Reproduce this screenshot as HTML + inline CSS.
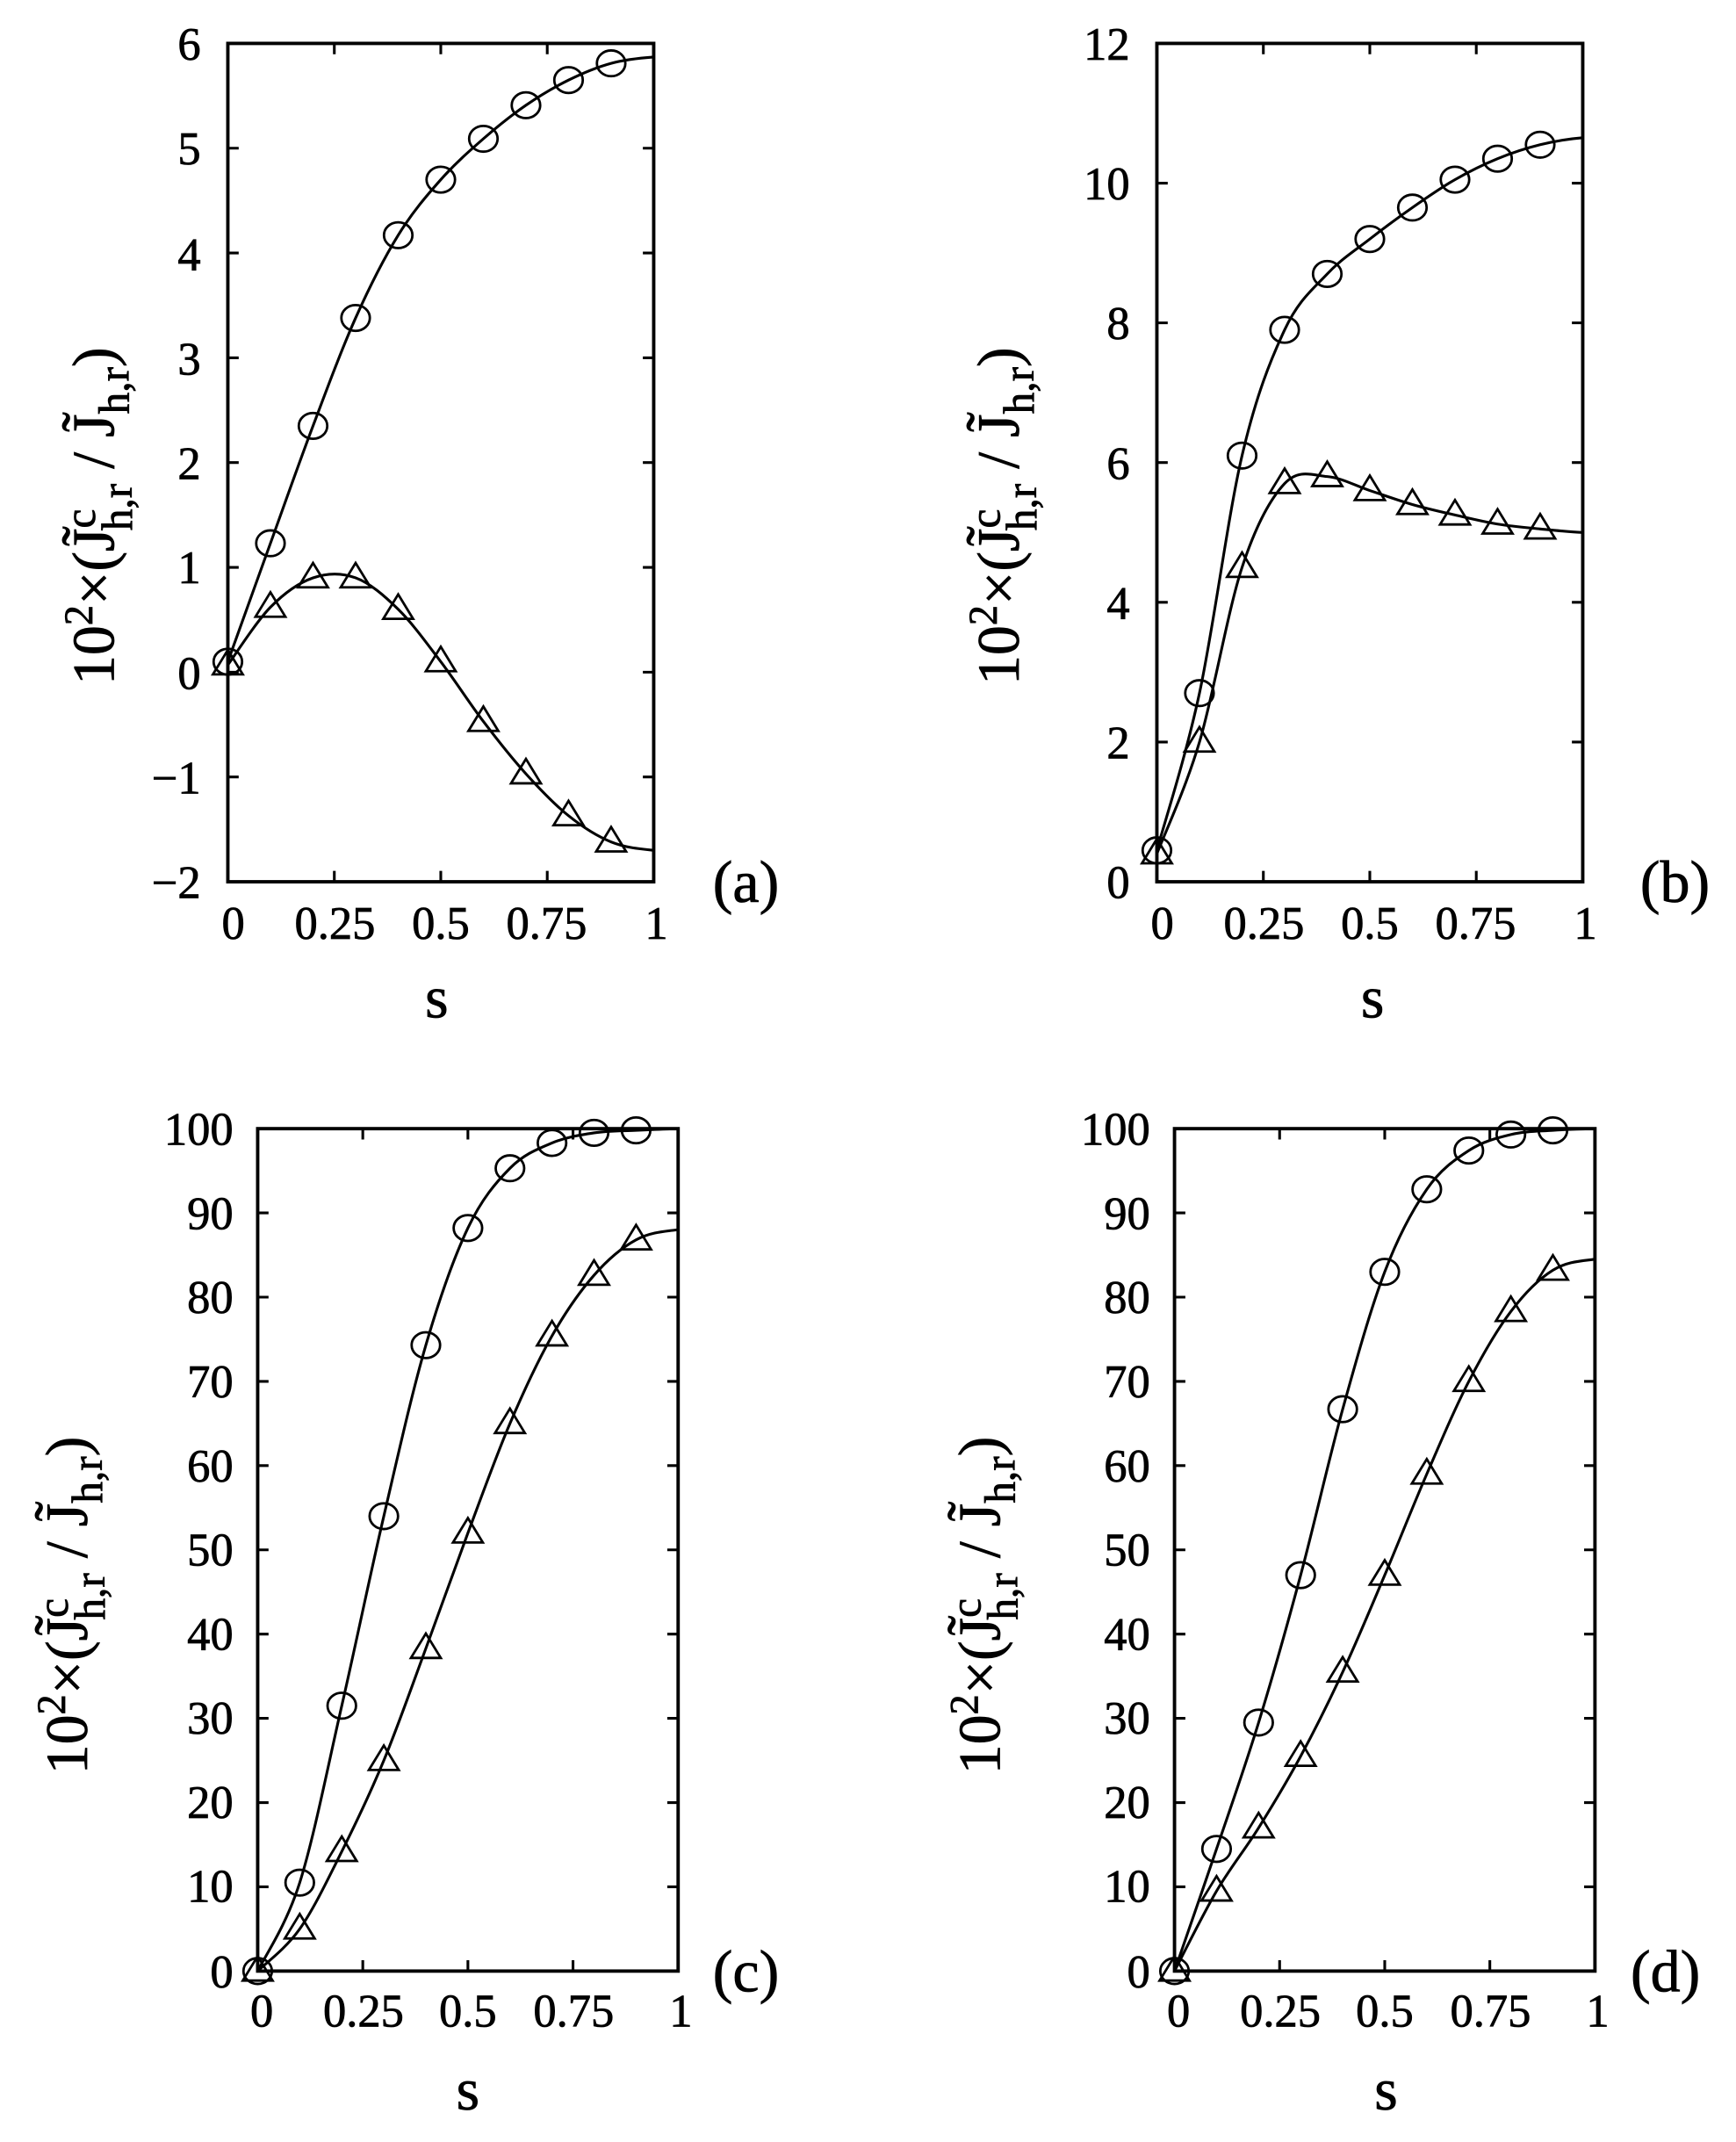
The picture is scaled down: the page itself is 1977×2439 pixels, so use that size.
<!DOCTYPE html>
<html><head><meta charset="utf-8"><style>
html,body{margin:0;padding:0;background:#fff}
svg{display:block}
text{font-family:"Liberation Serif","DejaVu Serif",serif;fill:#000;stroke:#000;stroke-width:0.5}
</style></head><body>
<svg id="s" width="1977" height="2439" viewBox="0 0 1280 1579" preserveAspectRatio="none" xmlns="http://www.w3.org/2000/svg">
<g font-size="34" text-anchor="end">
<text x="148" y="44">6</text><text x="148" y="121">5</text><text x="148" y="199">4</text><text x="148" y="276">3</text><text x="148" y="353">2</text><text x="148" y="430">1</text><text x="148" y="508">0</text><text x="148" y="585">−1</text><text x="148" y="662">−2</text>
<text x="833" y="44">12</text><text x="833" y="147">10</text><text x="833" y="250">8</text><text x="833" y="353">6</text><text x="833" y="456">4</text><text x="833" y="559">2</text><text x="833" y="662">0</text>
<text x="172" y="844">100</text><text x="172" y="906">90</text><text x="172" y="968">80</text><text x="172" y="1030">70</text><text x="172" y="1092">60</text><text x="172" y="1154">50</text><text x="172" y="1216">40</text><text x="172" y="1278">30</text><text x="172" y="1340">20</text><text x="172" y="1402">10</text><text x="172" y="1465">0</text>
<text x="848" y="844">100</text><text x="848" y="906">90</text><text x="848" y="968">80</text><text x="848" y="1030">70</text><text x="848" y="1092">60</text><text x="848" y="1154">50</text><text x="848" y="1216">40</text><text x="848" y="1278">30</text><text x="848" y="1340">20</text><text x="848" y="1402">10</text><text x="848" y="1465">0</text>
</g>
<g font-size="34" text-anchor="middle">
<text x="172" y="692">0</text><text x="247" y="692">0.25</text><text x="325" y="692">0.5</text><text x="403" y="692">0.75</text><text x="484" y="692">1</text>
<text x="857" y="692">0</text><text x="932" y="692">0.25</text><text x="1010" y="692">0.5</text><text x="1088" y="692">0.75</text><text x="1169" y="692">1</text>
<text x="193" y="1494">0</text><text x="268" y="1494">0.25</text><text x="345" y="1494">0.5</text><text x="423" y="1494">0.75</text><text x="502" y="1494">1</text>
<text x="869" y="1494">0</text><text x="944" y="1494">0.25</text><text x="1021" y="1494">0.5</text><text x="1099" y="1494">0.75</text><text x="1178" y="1494">1</text>
</g>
<g font-size="44" text-anchor="middle">
<text x="322" y="750">s</text><text x="1012" y="750">s</text><text x="345" y="1555">s</text><text x="1022" y="1555">s</text>
<text x="550" y="665">(a)</text><text x="1235" y="665">(b)</text><text x="550" y="1468">(c)</text><text x="1228" y="1468">(d)</text>
</g>
<g font-size="44">
<text transform="translate(84,505) rotate(-90)">10<tspan dy="-16" font-size="30">2</tspan><tspan dy="16">×(J̃</tspan><tspan dy="-14" font-size="32">c</tspan><tspan dx="-16" dy="27" font-size="32">h,r</tspan><tspan dy="-13"> / J̃</tspan><tspan dy="11" font-size="32">h,r</tspan><tspan dy="-11">)</tspan></text>
<text transform="translate(751,505) rotate(-90)">10<tspan dy="-16" font-size="30">2</tspan><tspan dy="16">×(J̃</tspan><tspan dy="-14" font-size="32">c</tspan><tspan dx="-16" dy="27" font-size="32">h,r</tspan><tspan dy="-13"> / J̃</tspan><tspan dy="11" font-size="32">h,r</tspan><tspan dy="-11">)</tspan></text>
<text transform="translate(64,1308) rotate(-90)">10<tspan dy="-16" font-size="30">2</tspan><tspan dy="16">×(J̃</tspan><tspan dy="-14" font-size="32">c</tspan><tspan dx="-16" dy="27" font-size="32">h,r</tspan><tspan dy="-13"> / J̃</tspan><tspan dy="11" font-size="32">h,r</tspan><tspan dy="-11">)</tspan></text>
<text transform="translate(737,1308) rotate(-90)">10<tspan dy="-16" font-size="30">2</tspan><tspan dy="16">×(J̃</tspan><tspan dy="-14" font-size="32">c</tspan><tspan dx="-16" dy="27" font-size="32">h,r</tspan><tspan dy="-13"> / J̃</tspan><tspan dy="11" font-size="32">h,r</tspan><tspan dy="-11">)</tspan></text>
</g>
<g id="plots" fill="none" stroke="#000" stroke-width="2"></g>
</svg>
<script>
var NS="http://www.w3.org/2000/svg",g=document.getElementById("plots");
function el(n,a){var e=document.createElementNS(NS,n);for(var k in a)e.setAttribute(k,a[k]);g.appendChild(e);}
function panel(L,R,T,B,ymin,ymax,yt,circ,tri){
 var X=function(s){return L+(R-L)*s},Y=function(v){return B-(B-T)*(v-ymin)/(ymax-ymin)};
 el("rect",{x:L,y:T,width:R-L,height:B-T,"stroke-width":2.5});
 var d="";
 yt.forEach(function(v){var y=Y(v);d+="M"+L+" "+y+"h8M"+R+" "+y+"h-8";});
 [0,0.25,0.5,0.75,1].forEach(function(s){var x=X(s);d+="M"+x+" "+B+"v-8M"+x+" "+T+"v8";});
 el("path",{d:d});
 [circ,tri].forEach(function(arr,k){
  var p=arr.map(function(v,i){return [X(i/10),Y(v)]});
  var c="M"+p[0][0]+" "+p[0][1];
  for(var i=0;i<p.length-1;i++){
   var p0=p[Math.max(i-1,0)],p1=p[i],p2=p[i+1],p3=p[Math.min(i+2,p.length-1)];
   if(i==p.length-2){p3=[2*p2[0]-p1[0],p2[1]];}
   c+="C"+(p1[0]+(p2[0]-p0[0])/6)+" "+(p1[1]+(p2[1]-p0[1])/6)+" "+(p2[0]-(p3[0]-p1[0])/6)+" "+(p2[1]-(p3[1]-p1[1])/6)+" "+p2[0]+" "+p2[1];
  }
  el("path",{d:c});
  for(var i=0;i<10;i++){var x=p[i][0],y=p[i][1];
   if(k==0)el("ellipse",{cx:x,cy:y,rx:10.5,ry:9.5,"stroke-width":1.8});
   else el("path",{d:"M"+(x-11)+" "+(y+7)+"L"+x+" "+(y-11)+"L"+(x+11)+" "+(y+7)+"Z","stroke-width":1.8});}
 });
}
panel(168,482,32,650,-2,6,[6,5,4,3,2,1,0,-1,-2],
 [0.1,1.23,2.35,3.38,4.17,4.7,5.09,5.41,5.65,5.81,5.87],
 [0.07,0.62,0.9,0.9,0.6,0.1,-0.47,-0.97,-1.37,-1.62,-1.7]);
panel(853,1167,32,650,0,12,[0,2,4,6,8,10,12],
 [0.45,2.7,6.1,7.9,8.7,9.2,9.65,10.05,10.35,10.55,10.65],
 [0.4,2.0,4.5,5.7,5.8,5.6,5.4,5.25,5.12,5.05,5.0]);
panel(190,500,832,1453,0,100,[0,10,20,30,40,50,60,70,80,90,100],
 [0,10.5,31.5,54,74.3,88.2,95.3,98.3,99.5,99.8,100],
 [0,5,14.2,25,38.3,52,65,75.4,82.6,86.8,88]);
panel(866,1176,832,1453,0,100,[0,10,20,30,40,50,60,70,80,90,100],
 [0,14.5,29.5,47,66.7,83,92.8,97.4,99.3,99.8,100],
 [0,9.5,17,25.5,35.5,47,59,70,78.3,83.2,84.5]);
</script>
</body></html>
